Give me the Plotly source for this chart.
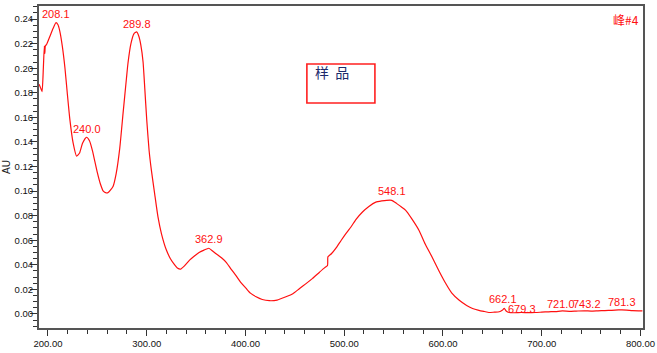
import numpy as np
import plotly.graph_objects as go

# ---- data ----
wavelength = [191, 192.5, 194, 195.3, 196.3, 196.8, 197.3, 198.7, 202, 205, 208.1, 210, 212, 214.5, 217.2,
              219.5, 222.2, 225.5, 229, 232, 235, 239, 242, 245, 247.5, 250, 253, 256, 259, 261, 263, 266,
              269, 272.7, 276, 279.5, 281, 284, 287, 289.8, 292, 294, 296.3, 298, 300, 302.4, 304.7, 308,
              311.4, 315, 319.9, 324, 328.3, 331, 334.3, 338, 343.4, 348, 353, 358, 362.9, 367, 372, 376,
              380.5, 385, 390.6, 395, 400.7, 405, 410.8, 417, 424.2, 432, 441, 448, 454.5, 461, 468, 475,
              480, 483.1, 483.5, 487, 492, 497, 501.7, 507, 512, 518.5, 525, 532, 538, 543, 548.1, 553, 558,
              562.3, 568, 575.8, 582, 589.2, 596, 602.7, 609, 616.2, 624, 630, 636.4, 642, 646.5, 652, 657,
              660, 662.1, 664, 667, 672, 679.3, 686, 693.6, 700, 707, 714, 721, 728, 735, 743.2, 750, 757,
              764, 771, 777.8, 781.3, 786, 792, 798, 802]
absorbance = [0.187, 0.184, 0.181, 0.200, 0.218, 0.212, 0.218, 0.2195, 0.226, 0.232, 0.237, 0.2355, 0.230,
              0.218, 0.200, 0.180, 0.158, 0.139, 0.1284, 0.131, 0.139, 0.1438, 0.141, 0.133, 0.124, 0.115,
              0.106, 0.100, 0.0985, 0.0988, 0.1005, 0.104, 0.114, 0.135, 0.163, 0.192, 0.204, 0.220, 0.228,
              0.2295, 0.226, 0.219, 0.205, 0.184, 0.158, 0.133, 0.117, 0.098, 0.079, 0.065, 0.052, 0.045,
              0.040, 0.0375, 0.0365, 0.039, 0.0438, 0.047, 0.050, 0.052, 0.0535, 0.051, 0.048, 0.0455, 0.042,
              0.037, 0.031, 0.026, 0.0208, 0.017, 0.014, 0.0118, 0.0108, 0.0113, 0.014, 0.0165, 0.0205,
              0.0245, 0.029, 0.034, 0.0375, 0.0395, 0.0465, 0.049, 0.054, 0.060, 0.0654, 0.071, 0.077, 0.083,
              0.0875, 0.091, 0.092, 0.0925, 0.0925, 0.090, 0.087, 0.0843, 0.078, 0.068, 0.057, 0.046, 0.035,
              0.025, 0.017, 0.0114, 0.007, 0.0045, 0.003, 0.002, 0.0012, 0.0015, 0.0018, 0.003, 0.0045,
              0.0025, 0.0012, 0.001, 0.0012, 0.0011, 0.0012, 0.0015, 0.0018, 0.002, 0.0025, 0.0022, 0.0024,
              0.0026, 0.0024, 0.0026, 0.0028, 0.003, 0.0033, 0.0034, 0.0032, 0.0028, 0.0026, 0.0025]

peak_wl = [208.1, 240.0, 289.8, 362.9, 548.1, 662.1, 679.3, 721.0, 743.2, 781.3]
peak_text = ["208.1", "240.0", "289.8", "362.9", "548.1", "662.1", "679.3", "721.0", "743.2", "781.3"]
peak_yshift = [1, 1, 0, 1, 1, 1, -4, -1, -1, 0]
peak_xshift = [0, 0, 0, 0, 0, -1, 1, -1, 3, 0]

x_ticks = [200, 300, 400, 500, 600, 700, 800]
x_tick_text = ["200.00", "300.00", "400.00", "500.00", "600.00", "700.00", "800.00"]
y_ticks = [0.00, 0.02, 0.04, 0.06, 0.08, 0.10, 0.12, 0.14, 0.16, 0.18, 0.20, 0.22, 0.24]
y_tick_text = ["%.2f" % v for v in y_ticks]

RED = "#FF1010"
AXC = "#555555"
FONT = "Liberation Sans, Arial, sans-serif"

fig = go.Figure()
fig.add_trace(go.Scatter(x=wavelength, y=absorbance, mode="lines",
                         line=dict(color=RED, width=1.2, shape="spline", smoothing=0.5),
                         hoverinfo="skip", showlegend=False))

peak_abs = np.interp(peak_wl, wavelength, absorbance)
for w, a, t, ys, xs in zip(peak_wl, peak_abs, peak_text, peak_yshift, peak_xshift):
    fig.add_annotation(x=w, y=a, text=t, showarrow=False, xanchor="center", yanchor="bottom",
                       yshift=ys, xshift=xs, font=dict(family=FONT, size=11, color=RED))

# sample box
fig.add_shape(type="rect", xref="x", yref="y", x0=462.2, x1=531.1, y0=0.1717, y1=0.2034,
              line=dict(color="#FF2020", width=1.6), fillcolor="rgba(0,0,0,0)")
fig.add_annotation(x=468, y=0.1965, xref="x", yref="y", text="样  品", showarrow=False,
                   xanchor="left", yanchor="middle",
                   font=dict(family="Noto Sans CJK SC", size=14, color="#1B2A6B"))

# peak id label
fig.add_annotation(x=1.0, y=1.0, xref="paper", yref="paper", xanchor="right", yanchor="top",
                   xshift=-2, yshift=-3, text="峰#4", showarrow=False,
                   font=dict(family="Noto Sans CJK SC", size=12, color=RED))

# axis titles
fig.add_annotation(x=0, y=0.5, xref="paper", yref="paper", xshift=-33, text="AU", textangle=-90,
                   showarrow=False, xanchor="center", yanchor="middle",
                   font=dict(family=FONT, size=10, color="#222222"))
fig.add_annotation(x=0.497, y=0, xref="paper", yref="paper", yshift=-22, text="nm",
                   showarrow=False, xanchor="center", yanchor="top",
                   font=dict(family=FONT, size=10, color="#555577"))

fig.update_xaxes(range=[190.9, 802.6], tickmode="array", tickvals=x_ticks, ticktext=x_tick_text,
                 ticks="outside", ticklen=6, tickwidth=1, tickcolor="#333333",
                 minor=dict(dtick=20, ticks="outside", ticklen=4, tickcolor="#333333", tick0=200),
                 showline=True, linecolor=AXC, linewidth=2, mirror=True, showgrid=False, zeroline=False,
                 tickfont=dict(family=FONT, size=9.5, color="#111111"))
fig.update_yaxes(range=[-0.0114, 0.2506], tickmode="array", tickvals=y_ticks, ticktext=y_tick_text,
                 ticks="outside", ticklen=7, tickwidth=1, tickcolor="#333333", ticklabelstandoff=-5,
                 minor=dict(dtick=0.005, ticks="outside", ticklen=4, tickcolor="#333333", tick0=0),
                 showline=True, linecolor=AXC, linewidth=2, mirror=True, showgrid=False, zeroline=False,
                 tickfont=dict(family=FONT, size=9.5, color="#111111"))

fig.update_layout(width=657, height=353, margin=dict(l=39, r=14, t=6, b=25),
                  paper_bgcolor="white", plot_bgcolor="white", template="none", showlegend=False)

fig.write_html("out.html")
